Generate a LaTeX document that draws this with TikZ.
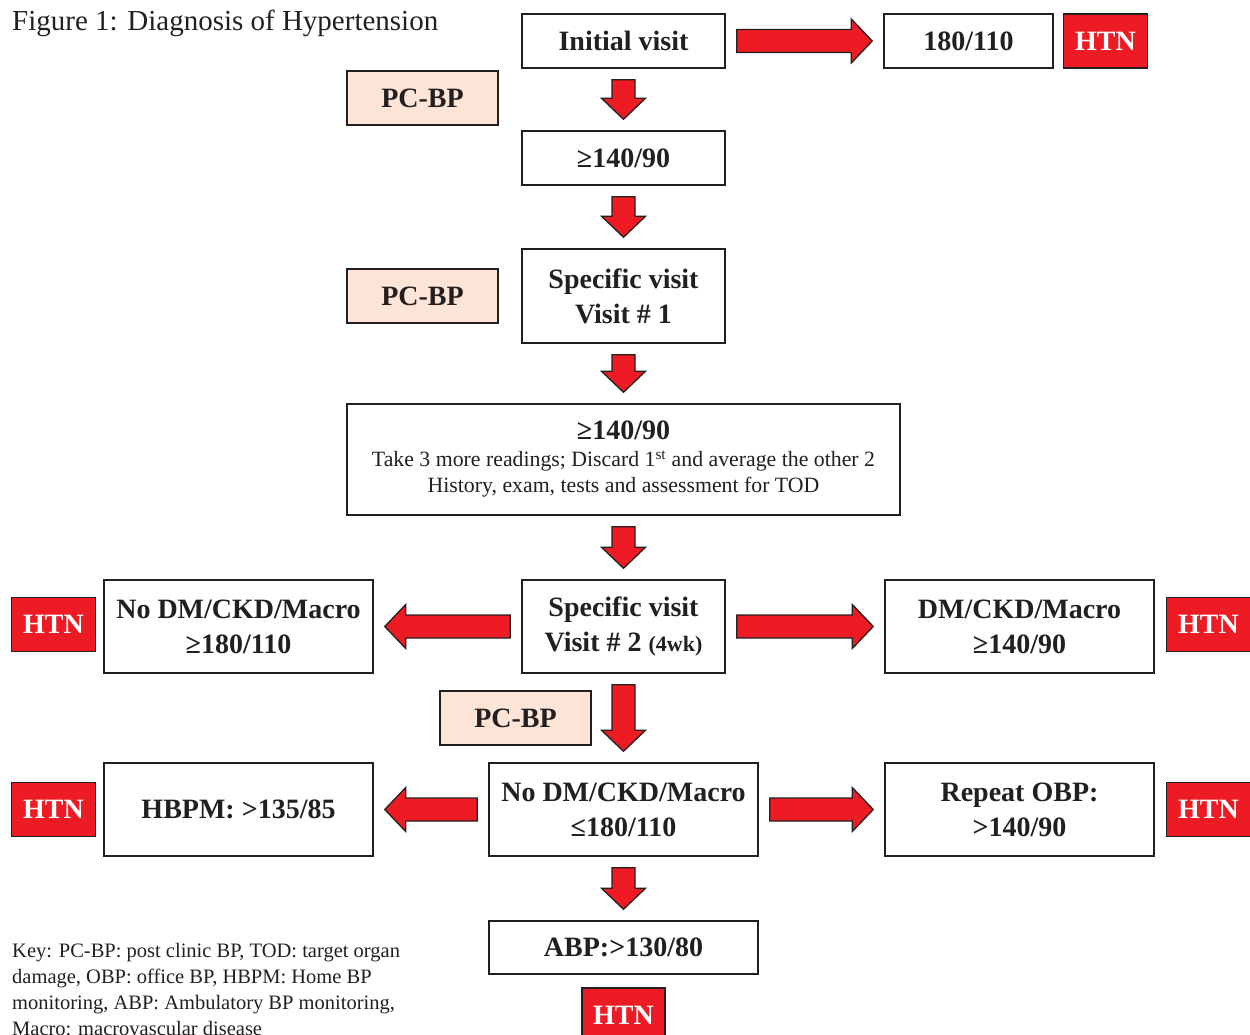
\documentclass[tikz,border=0pt]{standalone}
\usepackage{fontspec}
\setmainfont{Liberation Serif}
\usetikzlibrary{calc,positioning}

\definecolor{htnred}{RGB}{237,28,36}
\definecolor{peach}{RGB}{252,228,214}
\definecolor{linegray}{RGB}{35,31,32}

\newcommand{\boxfont}{\fontsize{28}{35}\selectfont\bfseries}
\newcommand{\shaftw}{11.5pt}
\newcommand{\headw}{22pt}
\newcommand{\headl}{21pt}
\newcommand{\arrgap}{11pt}

\tikzset{
  box/.style={draw=linegray, line width=1.5pt, fill=white, inner sep=0pt, align=center, text=linegray, font=\boxfont},
  pcbox/.style={box, fill=peach, minimum width=151pt, minimum height=54pt},
  htn/.style={box, fill=htnred, text=white, minimum width=84pt, minimum height=54pt},
  bigarrow/.style={draw=linegray, fill=htnred, line width=1.3pt, line join=miter,
    to path={let \p1=($(\tikztostart)!\arrgap!(\tikztotarget)$),
                 \p2=($(\tikztotarget)!\arrgap!(\tikztostart)$),
                 \n1={atan2(\y2-\y1,\x2-\x1)},
                 \n2={veclen(\x2-\x1,\y2-\y1)} in
      ($(\p1)+(\n1+90:\shaftw)$)
      -- ($(\p1)+(\n1:{\n2*1pt-\headl})+(\n1+90:\shaftw)$)
      -- ($(\p1)+(\n1:{\n2*1pt-\headl})+(\n1+90:\headw)$)
      -- (\p2)
      -- ($(\p1)+(\n1:{\n2*1pt-\headl})+(\n1-90:\headw)$)
      -- ($(\p1)+(\n1:{\n2*1pt-\headl})+(\n1-90:\shaftw)$)
      -- ($(\p1)+(\n1-90:\shaftw)$) -- cycle}}
}

\begin{document}
\begin{tikzpicture}[x=1pt, y=-1pt]
  \useasboundingbox (0,0) rectangle (1250,1034);

  % Titel en legenda
  \node[anchor=base west, inner sep=0pt, text=linegray, font=\fontsize{29}{34}\selectfont] (title) at (12,30) {Figure 1: Diagnosis of Hypertension};
  \node[anchor=north west, inner sep=0pt, align=left, text=linegray, font=\fontsize{20.5}{26}\selectfont] (key) at (12,943)
    {Key: PC-BP: post clinic BP, TOD: target organ\\damage, OBP: office BP, HBPM: Home BP\\monitoring, ABP: Ambulatory BP monitoring,\\Macro: macrovascular disease};

  % Eerste bezoek
  \node[box, minimum width=203pt, minimum height=54pt] (iv) at (623.5,41) {Initial visit};
  \node[box, minimum width=169pt, minimum height=54pt] (r180) at (968.5,41) {180/110};
  \node[htn, right=9pt of r180] (htnA) {HTN};
  \node[pcbox] (pcA) at (422.5,98) {PC-BP};
  \node[box, minimum width=203pt, minimum height=54pt] (bp140) at (623.5,158) {≥140/90};

  % Specifiek bezoek 1
  \node[box, minimum width=203pt, minimum height=94pt] (sv1) at (623.5,296) {Specific visit\\Visit \# 1};
  \node[pcbox] (pcB) at (422.5,296) {PC-BP};
  \node[box, minimum width=553pt, minimum height=111pt, font=\fontsize{21.8}{26}\selectfont] (read) at (623.5,459.5)
    {{\boxfont ≥140/90}\\[1pt]
     Take 3 more readings; Discard 1\textsuperscript{st} and average the other 2\\
     History, exam, tests and assessment for TOD};

  % Specifiek bezoek 2
  \node[box, minimum width=203pt, minimum height=93pt] (sv2) at (623.5,626.5) {Specific visit\\Visit \# 2 {\fontsize{22}{35}\selectfont (4wk)}};
  \node[box, minimum width=269pt, minimum height=93pt] (nodm) at (238.5,626.5) {No DM/CKD/Macro\\≥180/110};
  \node[htn, left=7pt of nodm, yshift=2pt] (htnB) {HTN};
  \node[box, minimum width=269pt, minimum height=93pt] (dm) at (1019.5,626.5) {DM/CKD/Macro\\≥140/90};
  \node[htn, right=11pt of dm, yshift=2pt] (htnC) {HTN};
  \node[pcbox] (pcC) at (515.5,718) {PC-BP};

  % Onderste rij
  \node[box, minimum width=269pt, minimum height=93pt] (nodm2) at (623.5,809.5) {No DM/CKD/Macro\\≤180/110};
  \node[box, minimum width=269pt, minimum height=93pt] (hbpm) at (238.5,809.5) {HBPM: >135/85};
  \node[htn, left=7pt of hbpm] (htnD) {HTN};
  \node[box, minimum width=269pt, minimum height=93pt] (obp) at (1019.5,809.5) {Repeat OBP:\\>140/90};
  \node[htn, right=11pt of obp] (htnE) {HTN};
  \node[box, minimum width=269pt, minimum height=53pt] (abp) at (623.5,947.5) {ABP:>130/80};
  \node[htn, minimum width=83pt] (htnF) at (623.5,1015) {HTN};

  % Pijlen
  \draw[bigarrow] (iv.east) to (r180.west);
  \draw[bigarrow] (iv.south) to (bp140.north);
  \draw[bigarrow] (bp140.south) to (sv1.north);
  \draw[bigarrow] (sv1.south) to (read.north);
  \draw[bigarrow] (read.south) to (sv2.north);
  \draw[bigarrow] (sv2.west) to (nodm.east);
  \draw[bigarrow] (sv2.east) to (dm.west);
  \draw[bigarrow] (sv2.south) to (nodm2.north);
  \draw[bigarrow] (nodm2.west) to (hbpm.east);
  \draw[bigarrow] (nodm2.east) to (obp.west);
  \draw[bigarrow] (nodm2.south) to (abp.north);
\end{tikzpicture}
\end{document}
